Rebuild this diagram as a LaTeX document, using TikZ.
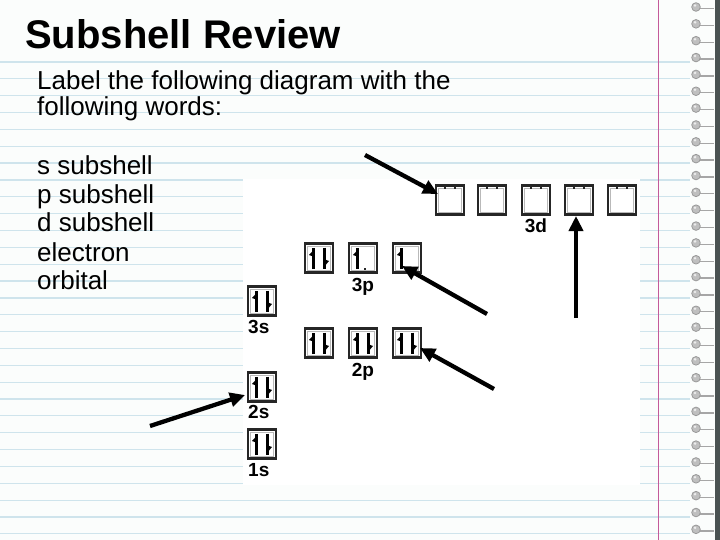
\documentclass[tikz,border=0pt]{standalone}
\usepackage{fontspec}
\setmainfont{Liberation Sans}
\usetikzlibrary{arrows.meta}
\definecolor{paper}{HTML}{FBFDFC}
\definecolor{ruleblue}{HTML}{CFE4EC}
\definecolor{marginpink}{HTML}{C45A9A}
\definecolor{strip}{HTML}{4A5252}
\definecolor{boxline}{HTML}{262626}
\begin{document}
\begin{tikzpicture}[x=1pt,y=-1pt,
  orb/.style={draw=boxline,line width=2.2pt,minimum width=28pt,minimum height=29pt,inner sep=0pt,outer sep=0pt,fill=white},
  lbl/.style={font=\fontsize{19}{19}\selectfont\bfseries,inner sep=0pt,anchor=base},
  slbl/.style={lbl,anchor=base west},
  txt/.style={font=\fontsize{26}{26}\selectfont,inner sep=0pt,anchor=base west},
  pointer/.style={line width=4.3pt,-{Triangle[length=15pt,width=14pt]}},
  inner/.pic={\draw[gray!55,line width=0.7pt] (-11.4,-11.9) rectangle (11.4,11.9);},
  elup/.pic={\draw[line width=2.8pt] (-5.5,11) -- (-5.5,-10.5);
             \fill (-4.5,-9) -- (-10,-3) -- (-4.5,-1) -- cycle;},
  eldn/.pic={\draw[line width=2.8pt] (5.5,-10.5) -- (5.5,11);
             \fill (4.5,9.5) -- (10,3) -- (4.5,1) -- cycle;},
  ticks/.pic={\fill[boxline] (-6,-13) rectangle (-4,-10.5); \fill[boxline] (4,-13) rectangle (6,-10.5);},
  dots/.pic={\fill[boxline] (1,9.5) rectangle (3,11.5);}
]
\useasboundingbox (0,0) rectangle (720,540);
% paper
\fill[paper] (0,0) rectangle (720,540);
\foreach \i in {0,...,28} \draw[ruleblue,line width=1.2pt] (0,62+16.85*\i) -- (690,62+16.85*\i);
\draw[marginpink,line width=0.8pt] (658,0) -- (658,540);
\fill[strip] (715,0) rectangle (720,540);
\foreach \i in {0,...,31} {
  \draw[gray!70,line width=1.3pt] (700,8.5+16.85*\i) -- (714,8.5+16.85*\i);
  \draw[gray!80,fill=gray!50,line width=0.8pt] (696,7+16.85*\i) circle (4.3);
  \fill[gray!15] (695,5.5+16.85*\i) circle (1.4);
}
% picture area
\fill[white] (243,179) rectangle (640,485);

% texts
\node[anchor=base west,inner sep=0pt,font=\fontsize{40}{40}\selectfont\bfseries] (title) at (25,49) {Subshell Review};
\node[txt] (t1) at (37,90) {Label the following diagram with the};
\node[txt] (t2) at (37,116) {following words:};
\node[txt] (w1) at (37,175) {s subshell};
\node[txt] (w2) at (37,204) {p subshell};
\node[txt] (w3) at (37,232) {d subshell};
\node[txt] (w4) at (37,261) {electron};
\node[txt] (w5) at (37,289) {orbital};

% 3d
\foreach \n/\x in {d1/450,d2/492,d3/536,d4/579,d5/622} {
  \node[orb] (\n) at (\x,200) {};
  \pic at (\n) {inner};
  \pic at (\n) {ticks};
}
\node[lbl] (l3d) at (536,233) {3d};
% 3p
\node[orb] (p31) at (319,258) {};
\node[orb] (p32) at (363,258) {};
\node[orb] (p33) at (407,258) {};
\foreach \n in {p31,p32,p33} \pic at (\n) {inner};
\pic at (p31) {elup}; \pic at (p31) {eldn};
\pic at (p32) {elup}; \pic at (p33) {elup};
\pic at (p32) {dots};
\node[lbl] (l3p) at (363,291) {3p};
% 3s
\node[orb] (s3) at (262,301) {};
\pic at (s3) {inner};
\pic at (s3) {elup}; \pic at (s3) {eldn};
\node[slbl] (l3s) at (248,333) {3s};
% 2p
\node[orb] (p21) at (319,343) {};
\node[orb] (p22) at (363,343) {};
\node[orb] (p23) at (407,343) {};
\foreach \n in {p21,p22,p23} { \pic at (\n) {inner}; \pic at (\n) {elup}; \pic at (\n) {eldn}; }
\node[lbl] (l2p) at (363,376) {2p};
% 2s
\node[orb] (s2) at (262,387) {};
\pic at (s2) {inner};
\pic at (s2) {elup}; \pic at (s2) {eldn};
\node[slbl] (l2s) at (248,418) {2s};
% 1s
\node[orb] (s1) at (262,444) {};
\pic at (s1) {inner};
\pic at (s1) {elup}; \pic at (s1) {eldn};
\node[slbl] (l1s) at (248,476) {1s};

% pointer arrows
\coordinate (a1) at (365,155); \coordinate (b1) at (438,194);
\coordinate (a2) at (576,318); \coordinate (b2) at (576,216);
\coordinate (a3) at (487,314); \coordinate (b3) at (402,266);
\coordinate (a4) at (494,389); \coordinate (b4) at (420,348);
\coordinate (a5) at (150,426); \coordinate (b5) at (245,395);
\foreach \k in {1,...,5} \draw[pointer] (a\k) -- (b\k);
\end{tikzpicture}
\end{document}
